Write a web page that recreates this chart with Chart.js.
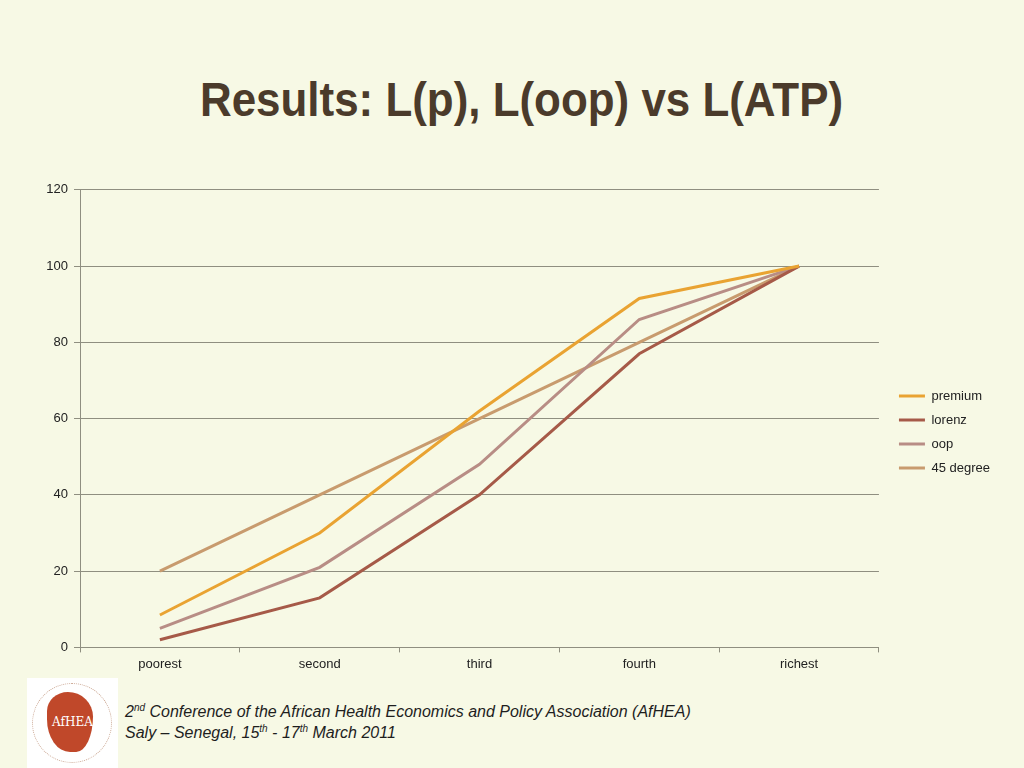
<!DOCTYPE html>
<html>
<head>
<meta charset="utf-8">
<script src="https://cdn.jsdelivr.net/npm/chart.js@4.4.1/dist/chart.umd.min.js"></script>
<style>
	html, body { margin: 0; padding: 0; }
	body { width: 1024px; height: 768px; background: #f7f9e5; position: relative; overflow: hidden; font-family: 'Liberation Sans', Arial, sans-serif; }
	#title { position: absolute; left: 0; top: 72px; white-space: nowrap; font-family: 'Liberation Sans', Arial, sans-serif; font-weight: bold; font-size: 48px; line-height: 56px; color: #4b3b2b; transform-origin: 0 0; }
	#wrap { position: absolute; left: 30px; top: 176px; width: 970px; height: 500px; }
	#logo { position: absolute; left: 27px; top: 678px; width: 91px; height: 90px; background: #fff; }
	#logo .ring { position: absolute; left: 5px; top: 5px; width: 78px; height: 78px; border-radius: 50%; border: 1px dotted #c9a48f; }
	#logo .blob { position: absolute; left: 20px; top: 14px; width: 46px; height: 60px; background: #c0482a; border-radius: 50% 60% 40% 55% / 35% 45% 65% 60%; }
	#logo .txt { position: absolute; left: 0; top: 37px; width: 91px; text-align: center; font-family: 'DejaVu Serif', serif; font-size: 12px; color: #fff; }
	#footer { position: absolute; left: 125px; top: 701px; font-style: italic; font-size: 16px; line-height: 21px; color: #1e1e1e; font-family: 'Liberation Sans', Arial, sans-serif; }
	#footer sup { font-size: 10px; line-height: 0; }
</style>
</head>
<body>
<div id="title">Results: L(p), L(oop) vs L(ATP)</div>
<div id="wrap"><canvas id="chart"></canvas></div>
<div id="logo"><div class="ring"></div><div class="blob"></div><div class="txt">AfHEA</div></div>
<div id="footer">2<sup>nd</sup> Conference of the African Health Economics and Policy Association (AfHEA)<br>Saly – Senegal, 15<sup>th</sup> - 17<sup>th</sup> March 2011</div>
<script>
(function () {
	'use strict';

	// ─── Data ───
	var categories = ['poorest', 'second', 'third', 'fourth', 'richest'];
	var premium = [8.5, 30, 62, 91.5, 100];
	var lorenz = [2, 13, 40, 77, 100];
	var oop = [5, 21, 48, 86, 100];
	var degree45 = [20, 40, 60, 80, 100];
	var yTicks = [0, 20, 40, 60, 80, 100, 120];

	var colors = {
		premium: '#e9a332',
		lorenz: '#a65a48',
		oop: '#b88d85',
		degree45: '#c89b6e',
		grid: '#8f8f80',
		text: '#222222'
	};
	var tickFont = { family: "'Liberation Sans', Arial, sans-serif", size: 13 };

	// ─── Condensed title: squeeze to the slide's width ───
	var title = document.getElementById('title');
	var w = title.offsetWidth;
	title.style.transform = 'scaleX(' + (643 / w) + ')';
	title.style.left = (521.5 - 643 / 2) + 'px';

	function series(label, data, color) {
		return {
			label: label,
			data: data,
			borderColor: color,
			backgroundColor: color,
			borderWidth: 3,
			pointRadius: 0,
			pointHoverRadius: 0,
			tension: 0,
			fill: false
		};
	}

	var ctx = document.getElementById('chart').getContext('2d');

	new Chart(ctx, {
		type: 'line',
		data: {
			labels: categories,
			datasets: [
				series('premium', premium, colors.premium),
				series('lorenz', lorenz, colors.lorenz),
				series('oop', oop, colors.oop),
				series('45 degree', degree45, colors.degree45)
			]
		},
		options: {
			responsive: true,
			maintainAspectRatio: false,
			animation: false,
			layout: { padding: { top: 12, right: 0, bottom: 0, left: 0 } },
			plugins: {
				tooltip: { enabled: false },
				legend: {
					position: 'right',
					align: 'center',
					labels: {
						usePointStyle: true,
						pointStyle: 'line',
						pointStyleWidth: 26,
						boxWidth: 26,
						padding: 11,
						color: colors.text,
						font: tickFont
					}
				}
			},
			scales: {
				x: {
					offset: true,
					grid: {
						display: true,
						drawOnChartArea: false,
						offset: true,
						tickLength: 5,
						color: colors.grid
					},
					border: { color: colors.grid, width: 1 },
					ticks: {
						color: colors.text,
						padding: 4,
						maxRotation: 0,
						font: tickFont
					}
				},
				y: {
					min: 0,
					max: 120,
					afterBuildTicks: function (axis) {
						axis.ticks = yTicks.map(function (v) { return { value: v }; });
					},
					afterFit: function (axis) { axis.width = 50; },
					grid: {
						color: colors.grid,
						lineWidth: 1,
						tickLength: 6
					},
					border: { color: colors.grid, width: 1 },
					ticks: {
						color: colors.text,
						padding: 6,
						font: tickFont
					}
				},
				// empty spacer between plot area and legend
				gap: {
					type: 'linear',
					position: 'right',
					display: true,
					afterFit: function (axis) { axis.width = 9; },
					grid: { display: false },
					border: { display: false },
					ticks: { display: false }
				}
			}
		}
	});
})();
</script>
</body>
</html>
